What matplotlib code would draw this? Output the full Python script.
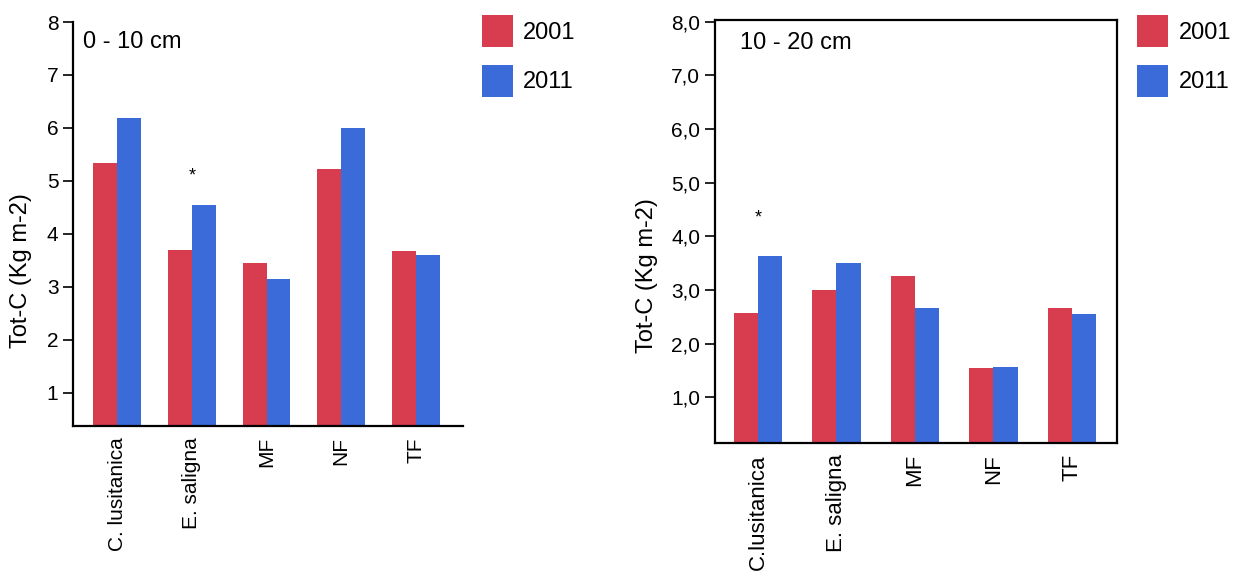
import matplotlib
matplotlib.use("Agg")
import matplotlib.pyplot as plt
import matplotlib.ticker as mticker
import numpy as np

plt.rcParams['font.family'] = ['Liberation Sans', 'DejaVu Sans']

# Total soil carbon stocks (kg m-2) per land use, two sampling years
years = ["2001", "2011"]
colors = ["#d83c4f", "#3b6ad9"]

sites_top = ["C. lusitanica", "E. saligna", "MF", "NF", "TF"]
top_2001 = [5.34, 3.70, 3.44, 5.23, 3.67]
top_2011 = [6.18, 4.54, 3.15, 6.00, 3.60]

sites_sub = ["C.lusitanica", "E. saligna", "MF", "NF", "TF"]
sub_2001 = [2.58, 3.00, 3.26, 1.54, 2.66]
sub_2011 = [3.63, 3.51, 2.66, 1.57, 2.55]

# significant change between years (index of the site)
star_top = 1
star_sub = 0

fig = plt.figure(figsize=(12.46, 5.76), dpi=100)
ax1 = fig.add_axes([0.0586, 0.2604, 0.313, 0.7014])
ax2 = fig.add_axes([0.5738, 0.2309, 0.3226, 0.7344])


def draw(ax, sites, v1, v2, width, star, star_gap, xsize):
    x = np.arange(len(sites))
    b1 = ax.bar(x - width / 2, v1, width, color=colors[0], label=years[0])
    b2 = ax.bar(x + width / 2, v2, width, color=colors[1], label=years[1])
    ax.set_xticks(x)
    ax.set_xticklabels(sites, rotation=90, fontsize=xsize)
    ax.tick_params(axis='x', length=0, pad=8)
    ax.tick_params(axis='y', labelsize=15, length=7, width=1.2)
    ax.set_ylabel("Tot-C (Kg m-2)", fontsize=17)
    top = max(v1[star], v2[star])
    ax.text(x[star], top + star_gap, "*", ha='center', va='center', fontsize=13)
    for s in ax.spines.values():
        s.set_linewidth(1.6)
    return b1, b2


legend_kw = dict(bbox_transform=fig.transFigure, loc='upper left', frameon=False,
                 fontsize=17, handlelength=1.3, handleheight=1.7,
                 labelspacing=0.75, handletextpad=0.45, borderaxespad=0)

# 0 - 10 cm
b1, b2 = draw(ax1, sites_top, top_2001, top_2011, 0.32, star_top, 0.55, 15)
ax1.set_xlim(-0.59, 4.63)
ax1.set_ylim(0.37, 8.0)
ax1.set_yticks(range(1, 9))
ax1.spines['top'].set_visible(False)
ax1.spines['right'].set_visible(False)
ax1.yaxis.set_label_coords(-0.105, 0.386)
ax1.text(0.026, 0.95, "0 - 10 cm", transform=ax1.transAxes, fontsize=17,
         va='center', ha='left')
ax1.legend(handles=[b1, b2], bbox_to_anchor=(0.3793, 0.99), **legend_kw)

# 10 - 20 cm
b1, b2 = draw(ax2, sites_sub, sub_2001, sub_2011, 0.31, star_sub, 0.72, 16)
ax2.set_xlim(-0.548, 4.573)
ax2.set_ylim(0.15, 8.03)
ax2.set_yticks(range(1, 9))
ax2.yaxis.set_major_formatter(
    mticker.FuncFormatter(lambda v, p: f"{v:.1f}".replace(".", ",")))
ax2.yaxis.set_label_coords(-0.142, 0.397)
ax2.text(0.062, 0.946, "10 - 20 cm", transform=ax2.transAxes, fontsize=17,
         va='center', ha='left')
ax2.legend(handles=[b1, b2], bbox_to_anchor=(0.9053, 0.99), **legend_kw)

fig.savefig("out.png", dpi=100)
